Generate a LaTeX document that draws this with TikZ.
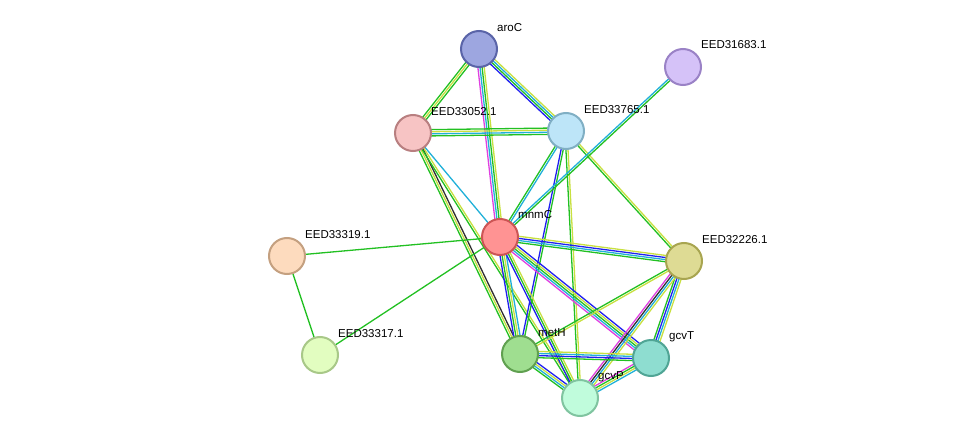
\documentclass[tikz,border=0pt]{standalone}
\usepackage{fontspec}
\setmainfont{Liberation Sans}
\usetikzlibrary{calc}
\definecolor{eg}{HTML}{22C022}
\definecolor{ey}{HTML}{C8E040}
\definecolor{ec}{HTML}{20B0D8}
\definecolor{em}{HTML}{E040E0}
\definecolor{eb}{HTML}{2020F0}
\definecolor{ek}{HTML}{303030}
\definecolor{f1}{HTML}{9DA6E0}\definecolor{d1}{HTML}{5A64A8}
\definecolor{f2}{HTML}{D5C2F8}\definecolor{d2}{HTML}{9A82C6}
\definecolor{f3}{HTML}{F7C4C4}\definecolor{d3}{HTML}{B87F80}
\definecolor{f4}{HTML}{BDE5F8}\definecolor{d4}{HTML}{80AFC4}
\definecolor{f5}{HTML}{FF9393}\definecolor{d5}{HTML}{CC5555}
\definecolor{f6}{HTML}{FDDBBE}\definecolor{d6}{HTML}{C4A080}
\definecolor{f7}{HTML}{DEDB94}\definecolor{d7}{HTML}{A8A550}
\definecolor{f8}{HTML}{9FDE90}\definecolor{d8}{HTML}{60A050}
\definecolor{f9}{HTML}{8EDDD0}\definecolor{d9}{HTML}{50A595}
\definecolor{f10}{HTML}{E2FDC0}\definecolor{d10}{HTML}{A8C888}
\definecolor{f11}{HTML}{C0FCDC}\definecolor{d11}{HTML}{80C4A0}
\tikzset{
  prot/.style={circle,minimum size=36pt,inner sep=0pt,line width=2pt,fill=f#1,draw=d#1},
  lbl/.style={anchor=west,font=\fontsize{11.5}{12}\selectfont,inner sep=0pt},
  ln/.style={line width=1.3pt}
}
\newcommand{\edge}[3]{%
  \foreach \c [count=\i] in {#3} {\xdef\nn{\i}}%
  \foreach \c [count=\i] in {#3} {%
    \pgfmathsetmacro{\off}{(\i-(\nn+1)/2)*2.1}%
    \draw[ln,color=\c] ($(#1)!\off pt!90:(#2)$) -- ($(#2)!\off pt!-90:(#1)$);
  }}
\begin{document}
\begin{tikzpicture}[x=1pt,y=-1pt]
\useasboundingbox (0,0) rectangle (975,444);
\coordinate (aroC) at (479,49);
\coordinate (E31) at (683,67);
\coordinate (E52) at (413,133);
\coordinate (E65) at (566,131);
\coordinate (mnmC) at (500,237);
\coordinate (E19) at (287,256);
\coordinate (E26) at (684,261);
\coordinate (metH) at (520,354);
\coordinate (gcvT) at (651,358);
\coordinate (E17) at (320,355);
\coordinate (gcvP) at (580,398);
\edge{aroC}{E52}{eg,ey,eg}
\edge{aroC}{E65}{eb,eg,ec,ey}
\edge{aroC}{mnmC}{em,ec,eg,ey}
\edge{E52}{E65}{eg,ec,ey,eg}
\edge{E52}{mnmC}{ec}
\edge{E52}{metH}{eg,ey,ek}
\edge{E52}{gcvP}{eg,ey}
\edge{E65}{mnmC}{eg,ec}
\edge{E65}{metH}{eb,eg}
\edge{E65}{gcvP}{eg,ey}
\edge{E65}{E26}{eg,ey}
\edge{E31}{mnmC}{ec,eg}
\edge{mnmC}{E19}{eg}
\edge{mnmC}{E17}{eg}
\edge{E19}{E17}{eg}
\edge{mnmC}{E26}{eg,ec,eb,ey}
\edge{mnmC}{metH}{eb,eg,ey,ec}
\edge{mnmC}{gcvT}{em,ec,eg,ey,eb}
\edge{mnmC}{gcvP}{eb,eg,ey}
\edge{E26}{metH}{eg,ey}
\edge{E26}{gcvT}{eg,eb,ec,ey}
\edge{E26}{gcvP}{em,ek,ec,ey}
\edge{metH}{gcvT}{eg,eb,ec,ey}
\edge{metH}{gcvP}{eg,ec,ey,eb}
\edge{gcvT}{gcvP}{em,eg,ey,ec}
\node[prot=1] (n1) at (aroC) {};
\node[prot=2] (n2) at (E31) {};
\node[prot=3] (n3) at (E52) {};
\node[prot=4] (n4) at (E65) {};
\node[prot=5] (n5) at (mnmC) {};
\node[prot=6] (n6) at (E19) {};
\node[prot=7] (n7) at (E26) {};
\node[prot=8] (n8) at (metH) {};
\node[prot=9] (n9) at (gcvT) {};
\node[prot=10] (n10) at (E17) {};
\node[prot=11] (n11) at (gcvP) {};
\node[lbl] (t1) at (497,28) {aroC};
\node[lbl] (t2) at (701,45) {EED31683.1};
\node[lbl] (t3) at (431,112) {EED33052.1};
\node[lbl] (t4) at (584,110) {EED33765.1};
\node[lbl] (t5) at (518,215) {mnmC};
\node[lbl] (t6) at (305,235) {EED33319.1};
\node[lbl] (t7) at (702,240) {EED32226.1};
\node[lbl] (t8) at (538,333) {metH};
\node[lbl] (t9) at (669,337) {gcvT};
\node[lbl] (t10) at (338,334) {EED33317.1};
\node[lbl] (t11) at (598,377) {gcvP};
\end{tikzpicture}
\end{document}
